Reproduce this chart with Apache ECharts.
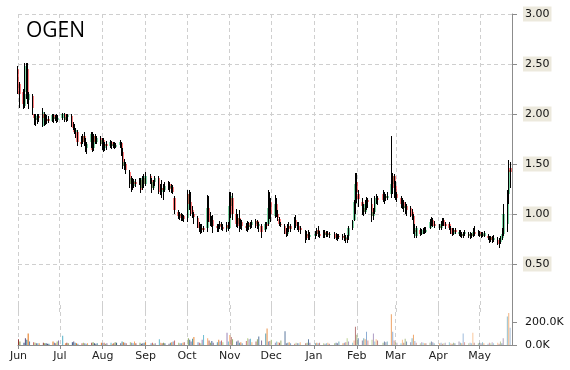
<!DOCTYPE html>
<html><head><meta charset="utf-8">
<script src="https://cdn.jsdelivr.net/npm/echarts@6/dist/echarts.min.js"></script>
<style>html,body{margin:0;padding:0;background:#fff}#c{width:570px;height:370px}</style>
</head><body><div id="c"></div>
<script>
const ticker = 'OGEN';
const monthNames = ['Jan','Feb','Mar','Apr','May','Jun','Jul','Aug','Sep','Oct','Nov','Dec'];
const dates = [
'2017-06-01','2017-06-02','2017-06-05','2017-06-06','2017-06-07','2017-06-08','2017-06-09','2017-06-12','2017-06-13','2017-06-14','2017-06-15','2017-06-16','2017-06-19','2017-06-20','2017-06-21','2017-06-22','2017-06-23','2017-06-26','2017-06-27','2017-06-28','2017-06-29','2017-06-30',
'2017-07-03','2017-07-05','2017-07-06','2017-07-07','2017-07-10','2017-07-11','2017-07-12','2017-07-13','2017-07-14','2017-07-17','2017-07-18','2017-07-19','2017-07-20','2017-07-21','2017-07-24','2017-07-25','2017-07-26','2017-07-27','2017-07-28','2017-07-31',
'2017-08-01','2017-08-02','2017-08-03','2017-08-04','2017-08-07','2017-08-08','2017-08-09','2017-08-10','2017-08-11','2017-08-14','2017-08-15','2017-08-16','2017-08-17','2017-08-18','2017-08-21','2017-08-22','2017-08-23','2017-08-24','2017-08-25','2017-08-28','2017-08-29','2017-08-30','2017-08-31',
'2017-09-01','2017-09-05','2017-09-06','2017-09-07','2017-09-08','2017-09-11','2017-09-12','2017-09-13','2017-09-14','2017-09-15','2017-09-18','2017-09-19','2017-09-20','2017-09-21','2017-09-22','2017-09-25','2017-09-26','2017-09-27','2017-09-28','2017-09-29',
'2017-10-02','2017-10-03','2017-10-04','2017-10-05','2017-10-06','2017-10-09','2017-10-10','2017-10-11','2017-10-12','2017-10-13','2017-10-16','2017-10-17','2017-10-18','2017-10-19','2017-10-20','2017-10-23','2017-10-24','2017-10-25','2017-10-26','2017-10-27','2017-10-30','2017-10-31',
'2017-11-01','2017-11-02','2017-11-03','2017-11-06','2017-11-07','2017-11-08','2017-11-09','2017-11-10','2017-11-13','2017-11-14','2017-11-15','2017-11-16','2017-11-17','2017-11-20','2017-11-21','2017-11-22','2017-11-24','2017-11-27','2017-11-28','2017-11-29','2017-11-30',
'2017-12-01','2017-12-04','2017-12-05','2017-12-06','2017-12-07','2017-12-08','2017-12-11','2017-12-12','2017-12-13','2017-12-14','2017-12-15','2017-12-18','2017-12-19','2017-12-20','2017-12-21','2017-12-22','2017-12-26','2017-12-27','2017-12-28','2017-12-29',
'2018-01-02','2018-01-03','2018-01-04','2018-01-05','2018-01-08','2018-01-09','2018-01-10','2018-01-11','2018-01-12','2018-01-16','2018-01-17','2018-01-18','2018-01-19','2018-01-22','2018-01-23','2018-01-24','2018-01-25','2018-01-26','2018-01-29','2018-01-30','2018-01-31',
'2018-02-01','2018-02-02','2018-02-05','2018-02-06','2018-02-07','2018-02-08','2018-02-09','2018-02-12','2018-02-13','2018-02-14','2018-02-15','2018-02-16','2018-02-20','2018-02-21','2018-02-22','2018-02-23','2018-02-26','2018-02-27','2018-02-28',
'2018-03-01','2018-03-02','2018-03-05','2018-03-06','2018-03-07','2018-03-08','2018-03-09','2018-03-12','2018-03-13','2018-03-14','2018-03-15','2018-03-16','2018-03-19','2018-03-20','2018-03-21','2018-03-22','2018-03-23','2018-03-26','2018-03-27','2018-03-28','2018-03-29',
'2018-04-02','2018-04-03','2018-04-04','2018-04-05','2018-04-06','2018-04-09','2018-04-10','2018-04-11','2018-04-12','2018-04-13','2018-04-16','2018-04-17','2018-04-18','2018-04-19','2018-04-20','2018-04-23','2018-04-24','2018-04-25','2018-04-26','2018-04-27','2018-04-30',
'2018-05-01','2018-05-02','2018-05-03','2018-05-04','2018-05-07','2018-05-08','2018-05-09','2018-05-10','2018-05-11','2018-05-14','2018-05-15','2018-05-16','2018-05-17','2018-05-18','2018-05-21','2018-05-22','2018-05-23'
];
const opens = [
2.45,2.30,2.22,2.08,2.22,2.45,2.14,2.18,2.00,1.96,1.94,1.98,1.88,2.00,1.96,1.93,1.95,1.93,1.99,1.95,1.97,1.94,
1.96,2.00,1.94,1.97,1.98,1.90,1.86,1.82,1.82,1.72,1.72,1.78,1.72,1.66,1.72,1.80,1.66,1.78,1.72,1.76,
1.70,1.74,1.66,1.70,1.68,1.72,1.68,1.70,1.67,1.69,1.71,1.62,1.48,1.50,1.42,1.30,1.34,1.28,1.32,1.32,1.34,1.26,1.36,
1.30,1.38,1.34,1.26,1.32,1.36,1.24,1.22,1.26,1.24,1.28,1.30,1.26,1.27,1.16,1.02,0.98,1.00,0.96,0.98,
0.96,1.20,1.12,1.04,1.00,0.96,0.90,0.86,0.84,0.86,0.86,1.06,0.98,0.92,0.94,0.88,0.86,0.88,0.90,0.87,0.85,0.89,
0.86,1.08,1.16,1.00,0.90,0.96,0.88,0.92,0.88,0.86,0.91,0.87,0.89,0.90,0.93,0.88,0.88,0.84,0.90,0.90,1.06,
1.12,0.98,1.10,1.00,0.95,0.90,0.88,0.84,0.80,0.86,0.88,0.86,0.94,0.90,0.88,0.86,0.82,0.78,0.80,0.77,
0.78,0.80,0.84,0.80,0.78,0.82,0.79,0.81,0.79,0.80,0.78,0.76,0.78,0.77,0.78,0.76,0.75,0.78,0.86,0.94,1.10,
1.32,1.20,1.12,1.06,1.02,1.10,1.14,1.10,0.98,1.02,1.12,1.16,1.20,1.14,1.18,1.16,1.20,1.30,1.38,
1.28,1.20,1.16,1.10,1.12,1.06,1.08,1.06,1.02,0.98,0.84,0.78,0.84,0.80,0.82,0.84,0.82,0.86,0.92,0.94,0.90,
0.88,0.86,0.90,0.94,0.90,0.90,0.86,0.84,0.80,0.84,0.80,0.82,0.80,0.78,0.80,0.80,0.78,0.80,0.78,0.82,0.80,
0.82,0.78,0.80,0.78,0.78,0.76,0.74,0.77,0.74,0.74,0.72,0.72,0.76,0.80,0.90,1.20,1.46
];
const closes = [
2.30,2.20,2.10,2.20,2.48,2.15,2.20,2.06,1.96,1.94,1.98,1.96,2.02,1.96,1.92,1.95,1.93,1.99,1.95,1.97,1.94,1.96,
2.00,1.94,1.97,1.99,1.90,1.86,1.82,1.84,1.72,1.70,1.78,1.72,1.67,1.70,1.80,1.64,1.78,1.72,1.76,1.70,
1.74,1.66,1.70,1.68,1.72,1.68,1.70,1.67,1.69,1.72,1.62,1.48,1.52,1.44,1.30,1.36,1.28,1.33,1.30,1.34,1.24,1.36,1.30,
1.38,1.34,1.26,1.32,1.36,1.24,1.22,1.26,1.24,1.28,1.30,1.25,1.28,1.22,1.04,0.98,1.00,0.96,0.98,0.95,
1.20,1.10,1.04,1.00,0.97,0.90,0.86,0.84,0.86,0.84,1.06,0.98,0.92,0.94,0.88,0.86,0.88,0.90,0.87,0.85,0.89,0.86,
1.08,1.18,1.00,0.90,0.96,0.88,0.92,0.88,0.86,0.91,0.87,0.89,0.92,0.93,0.88,0.90,0.82,0.90,0.88,1.06,1.12,
1.00,1.10,1.02,0.96,0.90,0.89,0.84,0.80,0.86,0.88,0.85,0.92,0.90,0.88,0.86,0.84,0.78,0.80,0.76,0.79,
0.80,0.84,0.80,0.78,0.82,0.79,0.81,0.79,0.80,0.78,0.76,0.78,0.77,0.78,0.76,0.74,0.77,0.86,0.93,1.12,1.30,
1.22,1.15,1.08,1.02,1.10,1.14,1.12,0.98,1.02,1.12,1.16,1.14,1.14,1.18,1.16,1.18,1.30,1.38,1.26,
1.20,1.16,1.10,1.12,1.06,1.08,1.04,1.02,0.98,0.88,0.82,0.86,0.80,0.82,0.84,0.82,0.84,0.92,0.94,0.90,0.88,
0.86,0.90,0.94,0.90,0.88,0.86,0.84,0.80,0.84,0.82,0.82,0.80,0.78,0.80,0.82,0.78,0.80,0.78,0.82,0.80,0.82,
0.78,0.80,0.78,0.81,0.76,0.74,0.77,0.74,0.76,0.72,0.70,0.76,0.80,1.00,1.10,1.44,1.42
];
const lows = [
2.20,2.06,2.05,2.06,2.15,2.10,2.05,1.99,1.89,1.88,1.90,1.92,1.87,1.88,1.89,1.90,1.91,1.92,1.91,1.93,1.91,1.92,
1.94,1.92,1.92,1.93,1.87,1.84,1.80,1.76,1.68,1.67,1.70,1.68,1.62,1.60,1.66,1.62,1.63,1.70,1.70,1.68,
1.64,1.62,1.63,1.64,1.66,1.65,1.66,1.65,1.66,1.66,1.58,1.45,1.44,1.40,1.26,1.22,1.24,1.26,1.27,1.29,1.21,1.24,1.26,
1.28,1.30,1.21,1.24,1.28,1.20,1.19,1.16,1.14,1.22,1.24,1.22,1.21,1.20,1.00,0.95,0.94,0.93,0.93,0.92,
0.92,1.04,0.98,0.96,0.90,0.86,0.82,0.80,0.81,0.82,0.82,0.92,0.88,0.87,0.81,0.82,0.82,0.85,0.84,0.83,0.82,0.83,
0.85,0.96,0.94,0.87,0.86,0.82,0.85,0.84,0.83,0.82,0.84,0.85,0.86,0.86,0.85,0.82,0.76,0.82,0.85,0.88,0.95,
0.92,0.96,0.97,0.93,0.88,0.87,0.80,0.77,0.78,0.82,0.82,0.84,0.86,0.84,0.82,0.80,0.71,0.74,0.74,0.74,
0.75,0.78,0.77,0.76,0.76,0.76,0.77,0.77,0.76,0.75,0.74,0.73,0.75,0.74,0.73,0.71,0.71,0.74,0.84,0.93,1.00,
1.11,1.07,0.99,0.98,1.00,1.04,1.06,0.92,0.94,1.00,1.10,1.09,1.12,1.10,1.13,1.14,1.16,1.20,1.16,
1.14,1.12,1.06,1.05,1.02,1.00,0.98,0.97,0.94,0.80,0.76,0.76,0.78,0.79,0.80,0.80,0.81,0.85,0.88,0.87,0.86,
0.84,0.84,0.88,0.88,0.85,0.84,0.80,0.78,0.79,0.80,0.78,0.77,0.76,0.76,0.78,0.76,0.75,0.76,0.77,0.78,0.78,
0.77,0.76,0.77,0.77,0.74,0.71,0.72,0.71,0.72,0.69,0.66,0.70,0.74,0.78,0.82,1.10,1.26
];
const highs = [
2.48,2.32,2.25,2.51,2.51,2.51,2.22,2.20,2.00,2.00,2.00,2.00,2.06,2.02,2.00,1.99,1.98,2.00,2.00,1.99,2.00,1.99,
2.01,2.01,2.00,2.00,2.00,1.92,1.90,1.86,1.84,1.78,1.80,1.82,1.76,1.72,1.82,1.82,1.80,1.80,1.78,1.78,
1.76,1.76,1.72,1.73,1.74,1.73,1.72,1.72,1.71,1.74,1.72,1.66,1.55,1.52,1.44,1.38,1.36,1.35,1.35,1.36,1.36,1.38,1.40,
1.42,1.40,1.36,1.34,1.38,1.38,1.30,1.34,1.30,1.32,1.33,1.32,1.30,1.29,1.18,1.04,1.02,1.01,1.00,0.99,
1.24,1.24,1.22,1.08,1.02,0.98,0.92,0.90,0.90,0.88,1.19,1.18,1.02,0.98,0.99,0.90,0.90,0.93,0.92,0.90,0.92,0.92,
1.22,1.22,1.21,1.05,1.00,1.04,0.95,0.94,0.91,0.93,0.92,0.92,0.94,0.95,0.94,0.92,0.90,0.92,0.92,1.24,1.22,
1.16,1.19,1.16,1.04,0.97,0.92,0.90,0.86,0.90,0.92,0.90,0.97,0.99,0.92,0.92,0.88,0.84,0.83,0.84,0.82,
0.83,0.86,0.88,0.83,0.84,0.84,0.83,0.83,0.82,0.82,0.81,0.80,0.80,0.80,0.81,0.79,0.79,0.88,0.94,1.14,1.41,
1.41,1.24,1.16,1.10,1.14,1.17,1.16,1.16,1.06,1.18,1.20,1.18,1.24,1.22,1.20,1.22,1.78,1.41,1.40,
1.33,1.22,1.18,1.16,1.14,1.12,1.10,1.08,1.05,1.00,0.90,0.88,0.86,0.85,0.86,0.87,0.87,0.95,0.97,0.96,0.93,
0.90,0.93,0.96,0.96,0.92,0.92,0.88,0.86,0.86,0.86,0.84,0.84,0.82,0.82,0.84,0.82,0.82,0.81,0.86,0.88,0.84,
0.83,0.82,0.82,0.83,0.80,0.78,0.78,0.78,0.79,0.77,0.76,0.78,0.86,1.10,1.24,1.54,1.52
];
const volumesK = [
50,30,20,60,45,100,30,25,20,15,15,15,20,15,15,10,10,30,20,15,30,40,
80,15,20,15,25,30,20,15,10,15,20,15,10,15,20,25,15,10,15,20,
15,20,10,15,20,10,15,25,20,15,30,25,20,15,25,20,15,30,15,20,10,15,20,
25,15,20,10,15,50,20,15,20,15,10,20,25,30,40,20,15,15,20,25,
60,45,30,55,70,25,20,15,45,87,60,40,20,35,20,25,45,30,40,25,107,30,
87,70,50,30,40,20,25,15,35,60,50,55,25,30,50,75,40,100,145,30,35,
45,20,30,25,20,40,120,15,20,25,15,10,20,15,15,25,15,20,50,20,
15,20,15,20,15,10,15,20,10,15,20,15,30,15,20,25,60,30,20,40,160,
90,60,40,60,50,115,40,45,100,30,50,40,20,30,25,30,270,115,40,
25,20,15,45,20,55,30,25,60,90,35,20,15,25,20,15,15,20,30,25,15,
15,20,10,15,20,25,15,10,20,15,30,20,15,100,25,15,20,15,107,20,15,
20,15,25,15,10,20,15,25,15,20,10,30,15,60,250,280,150
];
const priceTicks = {min: 0, max: 3, step: 0.5};
const volumeTicks = {min: 0, max: 350, step: 200};
const xStart = '2017-06-01', xEnd = '2018-05-24';
const volumePalette = ['#953735','#77933c','#1f497d','#604a7b','#31859c','#e46c0a','#4f81bd','#c0504d','#9bbb59','#8064a2','#4bacc6','#f79646'];

const bodies = dates.map((d, i) => [d, opens[i], closes[i], Math.min(opens[i], closes[i]), Math.max(opens[i], closes[i])]);
const wicks = dates.map((d, i) => [d, lows[i], highs[i], lows[i], highs[i]]);
const n = dates.length;
const vols = dates.map((d, i) => ({
  value: [d, volumesK[i]],
  itemStyle: {color: volumePalette[i % volumePalette.length], opacity: 1 - 0.5 * i / (n - 1)}
}));

const grey = '#8c8c8c';
const splitStyle = {show: true, lineStyle: {color: '#cfcfcf', type: [4, 3], width: 1}};
const axisFont = 'DejaVu Sans';
const xCommon = {type: 'time', min: xStart, max: xEnd, splitNumber: 12, splitLine: splitStyle};

const chart = echarts.init(document.getElementById('c'), null, {renderer: 'canvas'});
chart.setOption({
  animation: false,
  backgroundColor: '#ffffff',
  title: {text: ticker, left: 21, top: 16, textStyle: {fontFamily: 'Open Sans', fontSize: 21, fontWeight: 'normal', color: '#000'}},
  grid: [
    {left: 18, right: 58, top: 14, height: 300},
    {left: 18, right: 58, top: 305, height: 40}
  ],
  xAxis: [
    Object.assign({gridIndex: 0, axisLine: {show: false}, axisTick: {show: false}, axisLabel: {show: false}}, xCommon),
    Object.assign({gridIndex: 1,
      axisLine: {show: true, lineStyle: {color: grey}},
      axisTick: {show: true, length: 4, lineStyle: {color: grey}},
      axisLabel: {fontFamily: axisFont, fontSize: 11, color: '#222', margin: 6,
        formatter: v => monthNames[new Date(v).getMonth()]}}, xCommon)
  ],
  yAxis: [
    {gridIndex: 0, position: 'right', min: priceTicks.min, max: priceTicks.max, interval: priceTicks.step,
      axisLine: {show: true, lineStyle: {color: grey}},
      axisTick: {show: true, length: 5, lineStyle: {color: grey}},
      axisLabel: {fontFamily: axisFont, fontSize: 11, color: '#111', margin: 11, showMinLabel: false,
        backgroundColor: '#ece9dd', padding: [1, 2, 1, 2], lineHeight: 13,
        formatter: v => v.toFixed(2)},
      splitLine: Object.assign({showMinLine: false}, splitStyle)},
    {gridIndex: 1, position: 'right', min: volumeTicks.min, max: volumeTicks.max, interval: volumeTicks.step,
      axisLine: {show: true, lineStyle: {color: grey}},
      axisTick: {show: true, length: 5, lineStyle: {color: grey}},
      axisLabel: {fontFamily: axisFont, fontSize: 11, color: '#111', margin: 13, showMaxLabel: false,
        formatter: v => v.toFixed(1) + 'K'},
      splitLine: {show: false}}
  ],
  series: [
    {type: 'candlestick', xAxisIndex: 0, yAxisIndex: 0, data: bodies, barWidth: 2, z: 2,
      itemStyle: {color: '#00b050', color0: '#ff0000', borderColor: '#00b050', borderColor0: '#ff0000', borderWidth: 0}},
    {type: 'candlestick', xAxisIndex: 0, yAxisIndex: 0, data: wicks, barWidth: 1, z: 3,
      itemStyle: {color: '#000', color0: '#000', borderColor: '#000', borderColor0: '#000', borderWidth: 1}},
    {type: 'bar', xAxisIndex: 1, yAxisIndex: 1, data: vols, barWidth: 1}
  ]
});
</script>
</body></html>
